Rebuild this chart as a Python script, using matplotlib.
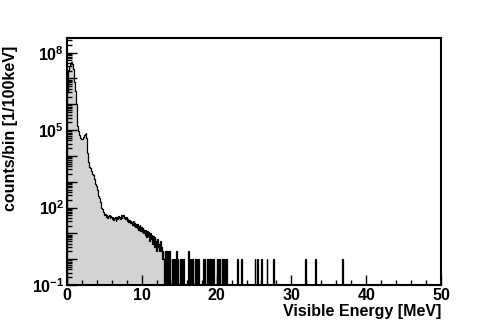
import numpy as np
import matplotlib
matplotlib.use('Agg')
import matplotlib.pyplot as plt
from matplotlib.ticker import LogLocator, FuncFormatter, MultipleLocator, NullFormatter

plt.rcParams['font.family'] = ['Liberation Sans', 'DejaVu Sans']
plt.rcParams['font.weight'] = 'bold'
plt.rcParams['mathtext.fontset'] = 'custom'
plt.rcParams['mathtext.rm'] = 'Liberation Sans:bold'
plt.rcParams['mathtext.it'] = 'Liberation Sans:bold'
plt.rcParams['mathtext.bf'] = 'Liberation Sans:bold'

bin_width = 0.1
x_range = (0.0, 50.0)

# counts per 100 keV bin, 0 - 13 MeV
low_counts = [
    3.0e6, 1.2e7, 2.2e7, 3.0e7, 3.6e7, 4.0e7, 4.2e7, 3.8e7, 2.4e7, 1.3e7,
    7.5e6, 3.2e6, 1.0e6, 3.1e5, 1.4e5, 8.9e4, 6.6e4, 5.6e4, 4.8e4, 4.5e4,
    4.7e4, 5.2e4, 5.6e4, 6.3e4, 7.1e4, 7.6e4, 5.0e4, 1.3e4, 5.6e3, 4.6e3,
    3.8e3, 3.4e3, 2.7e3, 2.5e3, 2.0e3, 1.8e3, 1.3e3, 1.1e3, 800, 660,
    480, 400, 290, 240, 170, 140, 100, 88, 66, 58,
    52, 56, 45, 53, 41, 47, 50, 38, 46, 42,
    36, 44, 33, 40, 45, 31, 42, 36, 48, 39,
    44, 37, 50, 41, 47, 52, 38, 44, 35, 42,
    31, 36, 28, 34, 25, 31, 27, 22, 29, 20,
    26, 18, 23, 16, 24, 14, 19, 21, 12, 17,
    11, 16, 10, 14, 9, 13, 7, 12, 8, 11,
    5, 10, 6, 9, 4, 8, 3, 7, 5, 2,
    6, 3, 4, 2, 5, 2, 3, 1, 2, 1,
]

# isolated bins above 13 MeV (lower bin edge in MeV, counts)
tail_energies = [13.1, 13.3, 13.5, 13.7, 14.0, 14.2, 14.4, 14.6, 14.8, 15.1,
                 15.3, 15.5, 16.2, 16.4, 16.6, 16.8, 17.1, 17.3, 17.5, 18.2,
                 18.4, 18.7, 18.9, 19.1, 19.3, 19.5, 20.0, 20.2, 20.4, 20.7,
                 20.9, 21.1, 21.3, 22.7, 23.3, 25.1, 25.4, 26.0, 26.7, 27.6,
                 31.8, 33.2, 36.8]
tail_counts = [2, 2, 2, 2, 1, 1, 1, 2, 1, 1,
               1, 1, 2, 1, 1, 1, 1, 1, 1, 1,
               1, 1, 1, 1, 1, 1, 1, 1, 1, 1,
               1, 1, 1, 1, 1, 1, 1, 1, 1, 1,
               1, 1, 1]

nbins = int(round((x_range[1] - x_range[0]) / bin_width))
edges = np.linspace(x_range[0], x_range[1], nbins + 1)
counts = np.zeros(nbins)
counts[:len(low_counts)] = low_counts
for e, c in zip(tail_energies, tail_counts):
    counts[int(round(e / bin_width))] = c

floor = 1e-3
plot_vals = np.where(counts > 0, counts, floor)

fig = plt.figure(figsize=(4.8, 3.2), dpi=100)
ax = fig.add_axes([67/480, 35/320, (441-67)/480, (285-38)/320])
ax.set_yscale('log')
ax.stairs(plot_vals, edges, baseline=floor, fill=True, color='#d3d3d3', lw=0)
ax.stairs(plot_vals, edges, baseline=floor, color='black', lw=0.9)

ax.set_xlim(*x_range)
ax.set_ylim(0.1, 3.7e8)

for s in ax.spines.values():
    s.set_linewidth(1.5)

ax.xaxis.set_major_locator(MultipleLocator(10))
ax.xaxis.set_minor_locator(MultipleLocator(2))
ax.yaxis.set_major_locator(LogLocator(base=10, numticks=20))
ax.yaxis.set_minor_locator(LogLocator(base=10, subs=np.arange(2, 10), numticks=20))
ax.yaxis.set_minor_formatter(NullFormatter())

def yfmt(v, pos):
    e = int(round(np.log10(v)))
    if e in (-1, 2, 5, 8):
        return r'$10^{%d}$' % e
    return ''
ax.yaxis.set_major_formatter(FuncFormatter(yfmt))

ax.tick_params(axis='both', which='major', direction='in', length=7, width=1,
               labelsize=11.5, top=False, right=False)
ax.tick_params(axis='both', which='minor', direction='in', length=3.5, width=1,
               top=False, right=False)
ax.tick_params(axis='x', pad=2)
ax.tick_params(axis='y', pad=2)

ax.set_xlabel('Visible Energy [MeV]', fontsize=11.5, fontweight='bold', loc='right', labelpad=1)
ax.set_ylabel('counts/bin [1/100keV]', fontsize=11.5, fontweight='bold', loc='top', labelpad=10)
ax.yaxis.label.set_y(0.97)

fig.savefig('out.png', dpi=100, facecolor='white')
